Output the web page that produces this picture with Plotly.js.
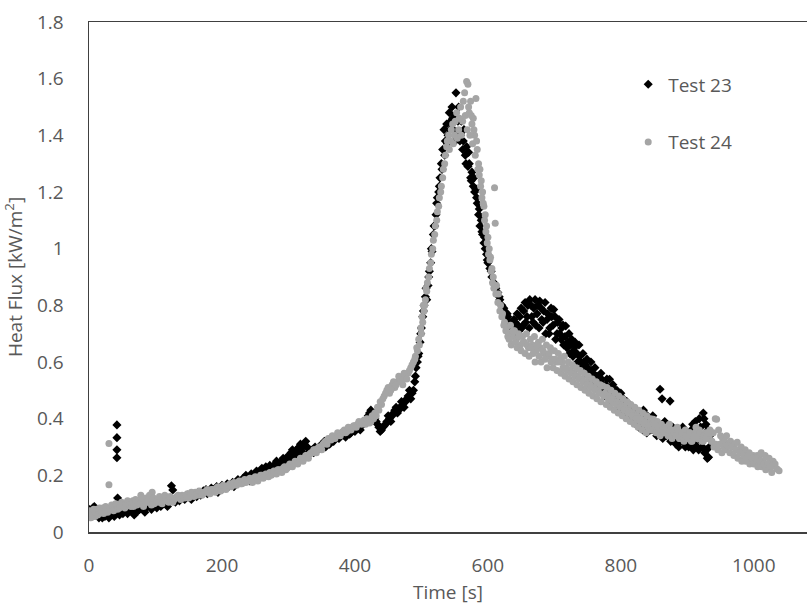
<!DOCTYPE html>
<html>
<head>
<meta charset="utf-8">
<script src="https://cdn.plot.ly/plotly-3.0.1.min.js"></script>
<style>html,body{margin:0;padding:0;background:#fff;}#chart{width:807px;height:606px;}</style>
</head>
<body>
<div id="chart"></div>
<script>
// Test 23 (black diamonds): time [s], heat flux [kW/m2]
const t23 = [0,3,6,9,12,15,18,21,24,27,30,33,36,40,42,42,42,42,43,45,48,51,54,57,60,63,66,70,73,76,80,83,86,90,93,96,100,104,108,112,116,120,124,126,128,132,136,140,144,148,152,156,160,164,168,172,176,180,184,188,192,196,200,204,208,212,216,220,224,228,232,236,240,244,248,252,256,260,264,268,272,276,280,284,288,292,296,300,304,308,312,316,320,324,328,332,336,340,344,348,352,356,360,364,368,372,376,380,384,388,392,396,400,404,408,412,416,420,424,428,432,436,440,444,448,452,456,460,464,468,472,476,480,484,488,490,492,494,496,498,500,502,504,506,508,510,512,514,516,518,520,522,524,526,528,530,532,534,536,538,540,542,544,546,548,550,552,554,556,558,560,562,564,566,568,570,572,574,576,578,580,582,584,586,588,590,592,594,596,598,600,603,606,609,612,615,618,621,624,627,630,633,636,639,642,645,648,651,654,657,660,663,666,669,672,675,678,681,684,687,690,693,696,699,702,705,708,711,714,717,720,723,726,729,732,735,738,741,744,747,750,753,756,759,762,765,768,771,774,777,780,783,786,789,792,795,798,801,804,807,810,813,816,819,822,825,828,831,834,837,840,843,846,849,852,855,859,862,865,868,871,874,877,880,883,886,889,892,894,897,900,903,906,909,912,915,918,921,924,926,928,930,932,934];
const q23 = [0.08,0.07,0.085,0.06,0.075,0.05,0.065,0.08,0.055,0.07,0.05,0.06,0.075,0.065,0.378,0.333,0.29,0.262,0.12,0.07,0.08,0.065,0.085,0.075,0.09,0.08,0.07,0.095,0.085,0.08,0.1,0.09,0.085,0.1,0.09,0.11,0.095,0.1,0.09,0.105,0.1,0.115,0.163,0.148,0.11,0.12,0.11,0.125,0.115,0.13,0.12,0.135,0.13,0.14,0.13,0.145,0.15,0.14,0.155,0.15,0.16,0.15,0.165,0.16,0.17,0.165,0.175,0.17,0.185,0.18,0.19,0.2,0.19,0.205,0.2,0.215,0.21,0.225,0.215,0.22,0.235,0.23,0.24,0.235,0.245,0.26,0.255,0.27,0.28,0.27,0.29,0.3,0.285,0.31,0.3,0.285,0.29,0.3,0.29,0.305,0.31,0.3,0.32,0.33,0.32,0.335,0.33,0.345,0.34,0.35,0.345,0.36,0.355,0.37,0.36,0.38,0.39,0.41,0.43,0.415,0.39,0.37,0.36,0.375,0.39,0.4,0.41,0.43,0.42,0.44,0.45,0.46,0.48,0.47,0.5,0.53,0.58,0.6,0.63,0.67,0.72,0.76,0.8,0.83,0.82,0.87,0.92,0.95,0.99,1.05,1.08,1.12,1.18,1.2,1.25,1.3,1.35,1.42,1.38,1.44,1.4,1.48,1.45,1.5,1.42,1.47,1.55,1.4,1.5,1.38,1.45,1.35,1.42,1.33,1.36,1.29,1.3,1.25,1.27,1.22,1.2,1.21,1.16,1.12,1.08,1.1,1.05,1.02,1.0,0.98,0.95,0.93,0.9,0.88,0.86,0.845,0.82,0.8,0.79,0.775,0.76,0.74,0.72,0.75,0.7,0.73,0.76,0.72,0.78,0.74,0.8,0.82,0.76,0.79,0.73,0.8,0.815,0.75,0.78,0.7,0.77,0.72,0.76,0.785,0.68,0.74,0.7,0.72,0.66,0.727,0.67,0.63,0.68,0.64,0.656,0.6,0.62,0.58,0.6,0.56,0.58,0.55,0.57,0.53,0.55,0.51,0.53,0.54,0.5,0.52,0.48,0.539,0.49,0.47,0.5,0.46,0.48,0.44,0.47,0.43,0.45,0.41,0.44,0.4,0.42,0.387,0.41,0.38,0.43,0.39,0.41,0.37,0.4,0.36,0.38,0.35,0.504,0.47,0.37,0.34,0.36,0.462,0.33,0.35,0.31,0.34,0.32,0.35,0.317,0.3,0.33,0.31,0.36,0.29,0.39,0.3,0.4,0.32,0.42,0.28,0.38,0.26,0.264,0.34];
// Test 23, further readings (band spread)
const t23b = [2,8,14,20,26,32,38,46,52,58,64,68,74,78,84,88,94,98,102,110,118,130,138,146,154,162,170,178,186,194,202,210,218,226,234,242,250,258,266,274,282,290,298,302,306,310,314,318,322,326,330,338,346,354,362,370,378,386,394,402,410,418,422,426,430,434,438,442,446,450,454,458,462,466,470,474,478,482,486,491,495,499,503,507,511,515,519,523,527,531,535,539,543,547,551,555,559,563,567,571,575,579,583,587,591,595,599,605,611,617,623,629,635,641,644,647,650,653,656,659,662,665,668,671,674,677,680,683,686,689,692,695,698,701,704,707,710,713,716,719,722,725,728,731,734,737,740,743,746,749,752,755,758,761,764,767,770,773,776,779,782,785,788,791,794,797,800,803,806,809,812,815,818,821,824,827,830,833,836,839,842,845,848,851,854,857,860,863,866,869,872,875,878,881,884,887,890,893,896,899,902,905,908,911,914,917,920,923,925,927,929,931,933];
const q23b = [0.06,0.09,0.07,0.05,0.065,0.07,0.055,0.06,0.075,0.065,0.085,0.06,0.075,0.09,0.07,0.095,0.08,0.1,0.085,0.1,0.09,0.105,0.12,0.125,0.115,0.125,0.14,0.135,0.145,0.14,0.155,0.16,0.16,0.175,0.18,0.18,0.19,0.2,0.23,0.22,0.25,0.24,0.26,0.26,0.29,0.28,0.27,0.31,0.3,0.32,0.295,0.28,0.3,0.32,0.31,0.33,0.34,0.335,0.35,0.365,0.375,0.4,0.42,0.42,0.4,0.38,0.355,0.37,0.38,0.41,0.39,0.42,0.44,0.43,0.46,0.44,0.47,0.5,0.49,0.55,0.62,0.7,0.78,0.86,0.9,1.0,1.08,1.16,1.22,1.28,1.33,1.37,1.42,1.46,1.38,1.45,1.4,1.38,1.3,1.34,1.24,1.25,1.18,1.14,1.06,1.04,0.96,0.92,0.87,0.83,0.78,0.77,0.73,0.74,0.77,0.71,0.79,0.73,0.81,0.76,0.72,0.8,0.74,0.82,0.77,0.72,0.79,0.74,0.81,0.75,0.7,0.79,0.73,0.76,0.7,0.75,0.68,0.73,0.69,0.65,0.7,0.66,0.62,0.67,0.63,0.66,0.6,0.63,0.59,0.61,0.57,0.6,0.56,0.58,0.55,0.5,0.56,0.52,0.48,0.54,0.5,0.46,0.52,0.47,0.5,0.44,0.49,0.45,0.42,0.46,0.44,0.4,0.43,0.39,0.42,0.37,0.41,0.36,0.4,0.35,0.39,0.36,0.41,0.37,0.34,0.38,0.35,0.33,0.39,0.37,0.34,0.32,0.37,0.33,0.36,0.3,0.34,0.37,0.32,0.35,0.3,0.33,0.38,0.31,0.36,0.29,0.37,0.3,0.4,0.33,0.29,0.36,0.3];

// Test 24 (grey circles)
const t24 = [0,3,6,9,12,15,18,21,24,27,30,30,33,36,39,42,45,48,51,54,57,60,63,66,69,72,75,78,80,83,86,89,92,95,98,101,104,108,112,116,120,124,128,132,136,140,144,148,152,156,160,164,168,172,176,180,184,188,192,196,200,204,208,212,216,220,224,228,232,236,240,244,248,252,256,260,264,268,272,276,280,284,288,292,296,300,304,308,312,316,320,324,328,332,336,340,344,348,352,356,360,364,368,372,376,380,384,388,392,396,400,404,408,412,416,420,424,428,432,436,440,444,448,452,456,460,464,468,472,476,480,484,488,491,494,497,500,502,504,506,508,511,514,517,520,523,526,529,532,535,538,541,544,547,550,553,556,559,562,565,568,570,572,574,576,578,580,582,584,586,588,590,592,594,596,598,600,602,604,606,608,610,611,613,616,619,622,625,628,631,634,637,640,643,646,649,652,655,658,661,664,667,670,673,676,679,682,685,688,691,694,697,700,703,706,709,712,715,718,721,724,727,730,733,736,739,742,745,748,751,754,757,760,763,766,769,773,776,779,782,785,788,791,794,797,800,803,806,809,812,815,818,821,824,827,830,833,836,839,842,845,849,852,855,858,861,864,867,870,873,876,879,882,885,888,891,894,897,900,903,906,909,912,915,918,921,924,927,930,933,936,939,942,944,947,950,953,956,959,962,965,968,971,975,978,981,984,987,990,993,996,999,1002,1005,1008,1011,1014,1017,1020,1023,1026,1029,1032,1035,1038];
const q24 = [0.06,0.05,0.07,0.055,0.08,0.065,0.07,0.085,0.075,0.08,0.312,0.167,0.085,0.08,0.09,0.085,0.095,0.09,0.1,0.085,0.095,0.1,0.09,0.11,0.1,0.095,0.105,0.13,0.11,0.1,0.12,0.105,0.11,0.14,0.1,0.115,0.105,0.12,0.11,0.115,0.105,0.12,0.115,0.125,0.12,0.13,0.12,0.135,0.125,0.13,0.14,0.13,0.14,0.135,0.145,0.14,0.15,0.145,0.155,0.15,0.16,0.155,0.16,0.17,0.165,0.17,0.175,0.17,0.18,0.175,0.185,0.18,0.19,0.185,0.19,0.2,0.195,0.2,0.21,0.205,0.21,0.22,0.215,0.225,0.22,0.23,0.235,0.24,0.245,0.25,0.255,0.26,0.265,0.275,0.28,0.29,0.295,0.3,0.31,0.32,0.33,0.325,0.335,0.34,0.345,0.35,0.36,0.355,0.365,0.37,0.375,0.38,0.385,0.39,0.38,0.395,0.39,0.4,0.41,0.43,0.45,0.48,0.5,0.49,0.52,0.51,0.53,0.54,0.52,0.55,0.56,0.58,0.6,0.62,0.64,0.66,0.7,0.74,0.78,0.82,0.85,0.9,0.95,1.0,1.05,1.1,1.15,1.2,1.25,1.3,1.36,1.4,1.38,1.44,1.4,1.48,1.42,1.5,1.45,1.55,1.59,1.58,1.48,1.52,1.44,1.46,1.4,1.53,1.35,1.3,1.28,1.24,1.2,1.15,1.12,1.08,1.04,1.0,0.97,0.93,0.9,1.215,1.09,0.87,0.84,0.8,0.77,0.74,0.72,0.7,0.73,0.69,0.71,0.68,0.7,0.66,0.69,0.67,0.7,0.65,0.68,0.66,0.69,0.64,0.67,0.65,0.68,0.63,0.66,0.62,0.65,0.61,0.64,0.6,0.63,0.61,0.6,0.62,0.58,0.6,0.57,0.59,0.56,0.58,0.55,0.57,0.54,0.56,0.53,0.55,0.52,0.54,0.51,0.53,0.5,0.52,0.515,0.49,0.51,0.48,0.5,0.47,0.49,0.46,0.48,0.45,0.47,0.44,0.46,0.43,0.45,0.42,0.44,0.41,0.43,0.4,0.42,0.39,0.41,0.38,0.4,0.398,0.37,0.39,0.36,0.38,0.35,0.37,0.36,0.38,0.34,0.36,0.35,0.37,0.33,0.35,0.34,0.36,0.33,0.35,0.32,0.34,0.35,0.33,0.36,0.34,0.32,0.35,0.33,0.34,0.32,0.35,0.4,0.398,0.36,0.34,0.33,0.32,0.34,0.31,0.32,0.3,0.31,0.317,0.29,0.3,0.28,0.29,0.27,0.28,0.26,0.27,0.25,0.27,0.26,0.28,0.25,0.27,0.24,0.26,0.23,0.25,0.24,0.222,0.216];
// Test 24, further readings (band spread)
const t24b = [1,4,7,10,13,16,19,22,25,28,31,34,37,40,43,46,49,52,55,58,61,64,67,70,73,76,79,82,85,88,91,94,97,102,106,110,114,118,122,126,130,134,138,142,146,150,154,158,162,166,170,174,178,182,186,190,194,198,202,206,210,214,218,222,226,230,234,238,242,246,250,254,258,262,266,270,274,278,282,286,290,294,298,302,306,310,314,318,322,326,330,334,338,342,346,350,354,358,362,366,370,374,378,382,386,390,394,398,402,406,410,414,418,422,426,430,434,438,442,446,450,454,458,462,466,470,474,478,482,486,490,493,496,499,501,503,505,507,509,512,515,518,521,524,527,530,533,536,539,542,545,548,551,554,557,560,563,566,569,571,573,575,577,579,581,583,585,587,589,591,593,595,597,599,601,603,605,607,609,612,615,618,621,624,627,630,632,635,638,641,644,647,650,653,656,659,662,665,668,671,674,677,680,683,686,689,692,695,698,701,704,707,710,713,716,719,722,725,728,731,734,737,740,743,746,749,752,755,758,761,764,767,770,774,778,781,784,787,790,793,796,799,802,805,808,811,814,817,820,823,826,829,832,835,838,841,844,847,850,853,856,859,862,865,868,871,874,877,880,883,886,889,892,895,898,901,904,907,910,913,916,919,922,925,928,931,934,937,940,943,946,949,952,955,958,961,964,967,970,973,976,979,982,985,988,991,994,997,1000,1003,1006,1009,1012,1015,1018,1021,1024,1027,1030,1033,1036];
const q24b = [0.075,0.065,0.08,0.07,0.06,0.085,0.075,0.065,0.09,0.07,0.08,0.095,0.075,0.1,0.08,0.085,0.105,0.09,0.1,0.11,0.095,0.1,0.09,0.115,0.105,0.1,0.12,0.09,0.105,0.11,0.13,0.095,0.12,0.11,0.125,0.1,0.13,0.11,0.125,0.105,0.12,0.13,0.115,0.125,0.13,0.12,0.14,0.125,0.135,0.145,0.13,0.14,0.15,0.135,0.15,0.14,0.16,0.145,0.165,0.15,0.165,0.16,0.175,0.165,0.18,0.17,0.185,0.18,0.19,0.175,0.195,0.18,0.2,0.19,0.205,0.195,0.2,0.215,0.205,0.22,0.21,0.23,0.225,0.24,0.23,0.25,0.24,0.26,0.25,0.27,0.26,0.28,0.29,0.28,0.3,0.29,0.315,0.31,0.33,0.34,0.33,0.35,0.34,0.355,0.35,0.37,0.36,0.375,0.37,0.39,0.38,0.395,0.4,0.385,0.41,0.42,0.44,0.46,0.47,0.49,0.51,0.5,0.53,0.52,0.55,0.53,0.56,0.54,0.57,0.59,0.61,0.65,0.68,0.72,0.76,0.8,0.8,0.86,0.88,0.93,0.98,1.03,1.08,1.13,1.18,1.22,1.28,1.33,1.38,1.35,1.42,1.37,1.45,1.39,1.46,1.4,1.52,1.47,1.42,1.5,1.4,1.47,1.37,1.42,1.33,1.38,1.28,1.26,1.22,1.18,1.16,1.1,1.06,1.02,0.98,0.96,0.92,0.88,0.86,0.84,0.81,0.78,0.76,0.73,0.71,0.69,0.68,0.66,0.71,0.67,0.65,0.69,0.64,0.67,0.63,0.66,0.62,0.65,0.63,0.6,0.66,0.62,0.6,0.64,0.61,0.58,0.63,0.6,0.58,0.61,0.57,0.6,0.56,0.58,0.55,0.57,0.54,0.56,0.53,0.55,0.52,0.54,0.51,0.53,0.5,0.52,0.49,0.51,0.48,0.5,0.47,0.49,0.46,0.48,0.45,0.47,0.44,0.46,0.43,0.45,0.42,0.44,0.41,0.43,0.4,0.42,0.39,0.41,0.38,0.4,0.37,0.39,0.36,0.38,0.35,0.37,0.36,0.36,0.38,0.35,0.37,0.34,0.36,0.35,0.37,0.34,0.36,0.33,0.35,0.34,0.36,0.33,0.35,0.32,0.34,0.33,0.35,0.32,0.34,0.37,0.33,0.35,0.32,0.34,0.33,0.35,0.36,0.32,0.3,0.31,0.29,0.31,0.28,0.3,0.29,0.304,0.28,0.3,0.27,0.29,0.26,0.28,0.25,0.27,0.25,0.269,0.24,0.26,0.24,0.26,0.23,0.25,0.23,0.24,0.22,0.24,0.23,0.21];

const xTicks = [0, 200, 400, 600, 800, 1000];
const yTicks = [0, 0.2, 0.4, 0.6, 0.8, 1, 1.2, 1.4, 1.6, 1.8];
const yTickText = ['0', '0.2', '0.4', '0.6', '0.8', '1', '1.2', '1.4', '1.6', '1.8'];

const FONT = '"Open Sans", "Noto Sans", sans-serif';
const GREY_TXT = '#595959';

const traces = [
  {x: t23.concat(t23b), y: q23.concat(q23b), type: 'scatter', mode: 'markers', name: 'Test 23', legendgroup: 'a',
   marker: {symbol: 'diamond', size: 7, color: '#000000'}},
  {x: t24.concat(t24b), y: q24.concat(q24b), type: 'scatter', mode: 'markers', name: 'Test 24', legendgroup: 'b',
   marker: {symbol: 'circle', size: 7, color: '#A5A5A5'}}
];

const layout = {
  width: 807, height: 606,
  margin: {l: 89, r: 0, t: 22, b: 74, pad: 0},
  paper_bgcolor: '#ffffff', plot_bgcolor: '#ffffff',
  font: {family: FONT, size: 19, color: GREY_TXT},
  showlegend: true,
  legend: {x: 0.751, y: 0.915, xanchor: 'left', yanchor: 'top', bgcolor: 'rgba(0,0,0,0)',
           font: {family: FONT, size: 19, color: GREY_TXT}, tracegroupgap: 30, traceorder: 'grouped', itemwidth: 30},
  xaxis: {range: [0, 1080], tickvals: xTicks, ticktext: xTicks.map(String), showgrid: false, zeroline: false,
          showline: true, linecolor: '#404040', linewidth: 1.5, mirror: true, ticks: '',
          ticklabelstandoff: 16, tickfont: {family: FONT, size: 19, color: GREY_TXT},
          title: {text: 'Time [s]', font: {family: FONT, size: 19, color: GREY_TXT}, standoff: 8}},
  yaxis: {range: [0, 1.8], tickvals: yTicks, ticktext: yTickText, showgrid: false, zeroline: false,
          showline: true, linecolor: '#404040', linewidth: 1.5, ticks: '',
          ticklabelstandoff: 20, tickfont: {family: FONT, size: 19, color: GREY_TXT},
          title: {text: 'Heat Flux [kW/m<sup>2</sup>]', font: {family: FONT, size: 19, color: GREY_TXT}, standoff: 14}}
};

Plotly.newPlot('chart', traces, layout, {staticPlot: true, displayModeBar: false});
</script>
</body>
</html>
